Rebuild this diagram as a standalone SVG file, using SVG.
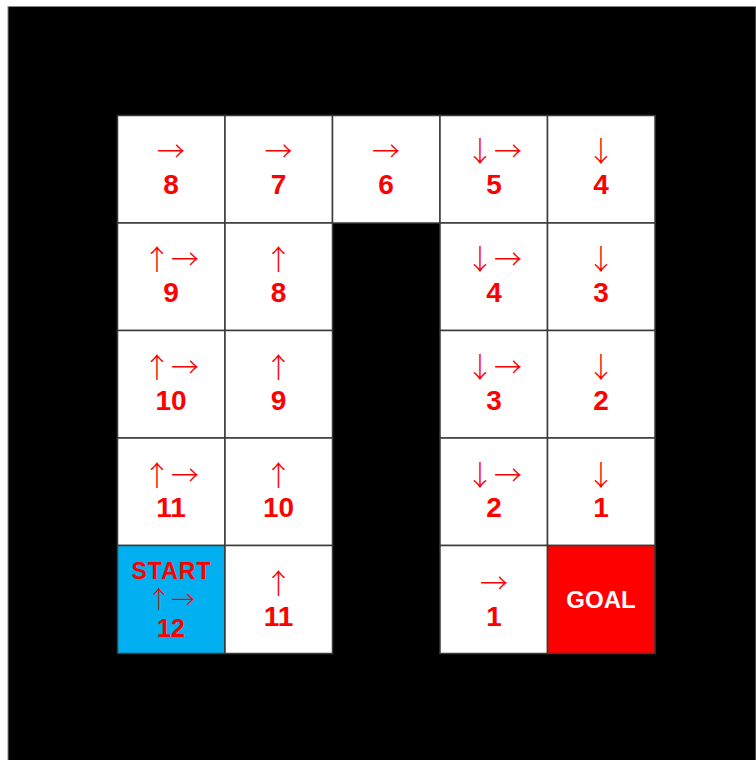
<svg xmlns="http://www.w3.org/2000/svg" width="756" height="760" viewBox="0 0 756 760">
<style>
.cell{fill:#fff;stroke:#3a3a3a;stroke-width:1.5}
.arr{font-family:"Noto Sans CJK JP","Noto Sans",sans-serif;font-weight:300;font-size:28px;fill:#ff0000;text-anchor:middle}
.num{font-family:"Liberation Sans",Arial,sans-serif;font-weight:bold;font-size:28px;fill:#ff0000;text-anchor:middle}
</style>
<rect x="0" y="0" width="756" height="760" fill="#fff"/>
<rect x="8" y="6.5" width="748" height="754" fill="#000" stroke="#888" stroke-width="1"/>
<!-- row 1 -->
<g id="c-0-0"><rect class="cell" x="117.5" y="115.5" width="107.5" height="107.5"/><text class="arr" x="171" y="162">→</text><text class="num" x="171" y="194">8</text></g>
<g id="c-0-1"><rect class="cell" x="225" y="115.5" width="107.5" height="107.5"/><text class="arr" x="278.5" y="162">→</text><text class="num" x="278.5" y="194">7</text></g>
<g id="c-0-2"><rect class="cell" x="332.5" y="115.5" width="107.5" height="107.5"/><text class="arr" x="386" y="162">→</text><text class="num" x="386" y="194">6</text></g>
<g id="c-0-3"><rect class="cell" x="440" y="115.5" width="107.5" height="107.5"/><text class="arr" x="494" y="162">↓→</text><text class="num" x="494" y="194">5</text></g>
<g id="c-0-4"><rect class="cell" x="547.5" y="115.5" width="107.5" height="107.5"/><text class="arr" x="601" y="162">↓</text><text class="num" x="601" y="194">4</text></g>
<!-- row 2 -->
<g id="c-1-0"><rect class="cell" x="117.5" y="223" width="107.5" height="107.5"/><text class="arr" x="171" y="270">↑→</text><text class="num" x="171" y="302">9</text></g>
<g id="c-1-1"><rect class="cell" x="225" y="223" width="107.5" height="107.5"/><text class="arr" x="278.5" y="270">↑</text><text class="num" x="278.5" y="302">8</text></g>
<g id="c-1-3"><rect class="cell" x="440" y="223" width="107.5" height="107.5"/><text class="arr" x="494" y="270">↓→</text><text class="num" x="494" y="302">4</text></g>
<g id="c-1-4"><rect class="cell" x="547.5" y="223" width="107.5" height="107.5"/><text class="arr" x="601" y="270">↓</text><text class="num" x="601" y="302">3</text></g>
<!-- row 3 -->
<g id="c-2-0"><rect class="cell" x="117.5" y="330.5" width="107.5" height="107.5"/><text class="arr" x="171" y="378">↑→</text><text class="num" x="171" y="410">10</text></g>
<g id="c-2-1"><rect class="cell" x="225" y="330.5" width="107.5" height="107.5"/><text class="arr" x="278.5" y="378">↑</text><text class="num" x="278.5" y="410">9</text></g>
<g id="c-2-3"><rect class="cell" x="440" y="330.5" width="107.5" height="107.5"/><text class="arr" x="494" y="378">↓→</text><text class="num" x="494" y="410">3</text></g>
<g id="c-2-4"><rect class="cell" x="547.5" y="330.5" width="107.5" height="107.5"/><text class="arr" x="601" y="378">↓</text><text class="num" x="601" y="410">2</text></g>
<!-- row 4 -->
<g id="c-3-0"><rect class="cell" x="117.5" y="438" width="107.5" height="107.5"/><text class="arr" x="171" y="486">↑→</text><text class="num" x="171" y="517">11</text></g>
<g id="c-3-1"><rect class="cell" x="225" y="438" width="107.5" height="107.5"/><text class="arr" x="278.5" y="486">↑</text><text class="num" x="278.5" y="517">10</text></g>
<g id="c-3-3"><rect class="cell" x="440" y="438" width="107.5" height="107.5"/><text class="arr" x="494" y="486">↓→</text><text class="num" x="494" y="517">2</text></g>
<g id="c-3-4"><rect class="cell" x="547.5" y="438" width="107.5" height="107.5"/><text class="arr" x="601" y="486">↓</text><text class="num" x="601" y="517">1</text></g>
<!-- row 5 -->
<g id="start"><rect class="cell" x="117.5" y="545.5" width="107.5" height="108" style="fill:#00b0f0"/><text class="num" x="171.5" y="579" style="font-size:23px;letter-spacing:1px">START</text><text class="arr" x="171" y="608" style="font-size:24px">↑→</text><text class="num" x="171" y="637" style="font-size:25px">12</text></g>
<g id="c-4-1"><rect class="cell" x="225" y="545.5" width="107.5" height="108"/><text class="arr" x="278.5" y="594">↑</text><text class="num" x="278.5" y="626">11</text></g>
<g id="c-4-3"><rect class="cell" x="440" y="545.5" width="107.5" height="108"/><text class="arr" x="494" y="594">→</text><text class="num" x="494" y="626">1</text></g>
<g id="goal"><rect class="cell" x="547.5" y="545.5" width="107.5" height="108" style="fill:#ff0000"/><text class="num" x="601" y="608" style="font-size:24px;fill:#fff">GOAL</text></g>
</svg>
